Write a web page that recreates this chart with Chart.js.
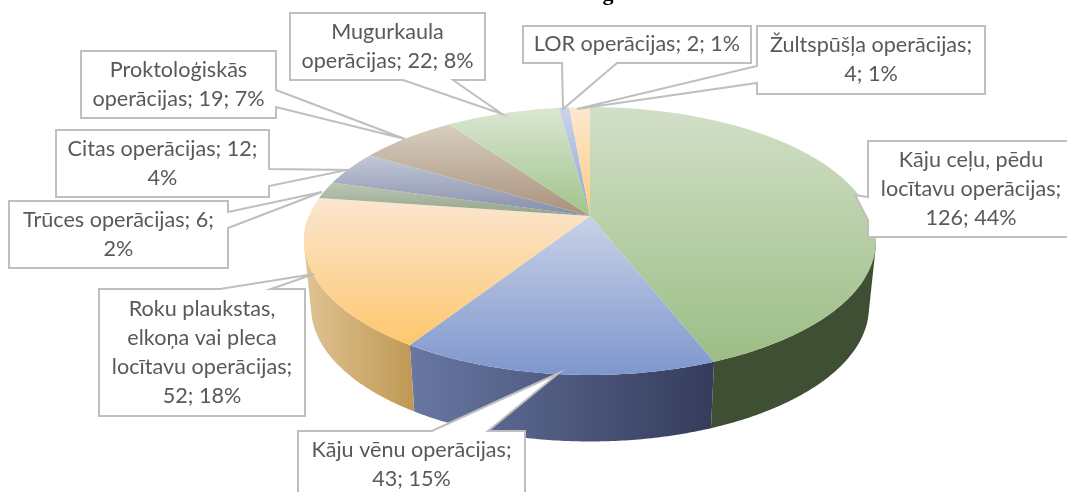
<!DOCTYPE html>
<html><head><meta charset="utf-8">
<style>html,body{margin:0;padding:0;background:#fff}canvas{display:block}</style>
<script src="https://cdn.jsdelivr.net/npm/chart.js@4"></script>
</head><body><canvas id="c" width="1067" height="492"></canvas>
<script>
const categories = ["Kāju ceļu, pēdu locītavu operācijas","Kāju vēnu operācijas","Roku plaukstas, elkoņa vai pleca locītavu operācijas","Trūces operācijas","Citas operācijas","Proktoloģiskās operācijas","Mugurkaula operācijas","LOR operācijas","Žultspūšļa operācijas"];
const values = [126,43,52,6,12,19,22,2,4];
const labelLines = [
 ["Kāju ceļu, pēdu","locītavu operācijas;","126; 44%"],
 ["Kāju vēnu operācijas;","43; 15%"],
 ["Roku plaukstas,","elkoņa vai pleca","locītavu operācijas;","52; 18%"],
 ["Trūces operācijas; 6;","2%"],
 ["Citas operācijas; 12;","4%"],
 ["Proktoloģiskās","operācijas; 19; 7%"],
 ["Mugurkaula","operācijas; 22; 8%"],
 ["LOR operācijas; 2; 1%"],
 ["Žultspūšļa operācijas;","4; 1%"]
];
const baseColors  = ["#9bbe85","#7f97cd","#fec76e","#93a38a","#858ea9","#a8917a","#9fc48a","#8ea6d4","#fdcc7a"];
const lightColors = ["#d2dfc8","#c8d1e7","#fbe6d0","#bcc7b4","#c3c8d8","#d8cec1","#dbe6d3","#cbd4ea","#fde8d1"];
const wallLeft    = ["#3f4f34","#6877a3","#e0c394","#55604e","#4c5268","#5e5144","#4a5c3e","#4c5a80","#c09a55"];
const wallRight   = ["#3f4f34","#353c5b","#c09a55","#55604e","#4c5268","#5e5144","#4a5c3e","#4c5a80","#c09a55"];
// callout outline: box corners plus pointer [side, a, b, tipX, tipY]
const calloutBoxes = [
 {x0:868,y0:141,x1:1074,y1:237,side:"left",a:197,b:220,tx:855,ty:195},
 {x0:298,y0:431,x1:525,y1:498,side:"top",a:432,b:488,tx:559,ty:373},
 {x0:99,y0:289,x1:305,y1:416,side:"top",a:220,b:271,tx:314,ty:274},
 {x0:9,y0:201,x1:228,y1:268,side:"right",a:212,b:228,tx:322,ty:192},
 {x0:56,y0:130,x1:269,y1:197,side:"right",a:169,b:186,tx:347,ty:170},
 {x0:81,y0:51,x1:276,y1:118,side:"right",a:90,b:107,tx:405,ty:139},
 {x0:290,y0:13,x1:485,y1:80,side:"bottom",a:403,b:453,tx:502,ty:114},
 {x0:523,y0:26,x1:751,y1:63,side:"bottom",a:562,b:617,tx:563,ty:109},
 {x0:757,y0:26,x1:985,y1:94,side:"left",a:66,b:83,tx:577,ty:109}
];
const drawOrder = [4,3,5,6,7,8,0,2,1];
const labelFont = "21.6px Lato, 'Noto Sans', sans-serif";
const lineStep = 29;
// perspective of the tilted disc, relative to the chart's outer radius
const persp = {k:0.1866, ay:129.3/216, bx:281/216, depth:66.5, shrink:0.975};

function project(el, angle){
  const X = Math.cos(angle), Y = Math.sin(angle), w = 1 - persp.k*Y, R = el.outerRadius;
  return {x: el.x + persp.bx*R*X/w, y: el.y + persp.ay*R*Y/w};
}
function rim(el){
  const n = Math.max(4, Math.ceil((el.endAngle-el.startAngle)/0.01)), pts=[];
  for(let i=0;i<=n;i++) pts.push(project(el, el.startAngle+(el.endAngle-el.startAngle)*i/n));
  return pts;
}
function area(q){
  let s=0;
  q.forEach((p,i)=>{const n=q[(i+1)%q.length]; s+=p.x*n.y-n.x*p.y;});
  return s;
}
const disc3d = {
  id:"disc3d",
  beforeDatasetsDraw(chart){
    const ctx = chart.ctx, arcs = chart.getDatasetMeta(0).data;
    ctx.save();
    // side wall: all rim strips of a slice go into one path, wound the same way, filled once
    arcs.forEach((el,i)=>{
      const top = rim(el);
      const low = p=>({x: el.x+(p.x-el.x)*persp.shrink, y:p.y+persp.depth});
      const xs = top.map(p=>p.x);
      const g = ctx.createLinearGradient(Math.min(...xs),0,Math.max(...xs),0);
      g.addColorStop(0,wallLeft[i]); g.addColorStop(1,wallRight[i]);
      ctx.beginPath();
      for(let j=0;j<top.length-1;j++){
        const a=top[j], b=top[j+1];
        if(Math.max(a.y,b.y)<el.y) continue;
        let q=[a,b,low(b),low(a)];
        if(area(q)<0) q=q.reverse();
        q.forEach((p,k)=>k?ctx.lineTo(p.x,p.y):ctx.moveTo(p.x,p.y));
        ctx.closePath();
      }
      ctx.fillStyle=g; ctx.fill("nonzero");
    });
    // top face
    arcs.forEach((el,i)=>{
      const pts = rim(el), ys = pts.map(p=>p.y).concat(el.y);
      const g = ctx.createLinearGradient(0,Math.min(...ys),0,Math.max(...ys));
      g.addColorStop(0,lightColors[i]); g.addColorStop(1,el.options.backgroundColor);
      ctx.beginPath(); ctx.moveTo(el.x,el.y);
      pts.forEach(p=>ctx.lineTo(p.x,p.y));
      ctx.closePath(); ctx.fillStyle=g; ctx.fill();
    });
    ctx.restore();
    return false;
  },
  afterDraw(chart){
    const ctx = chart.ctx;
    ctx.save();
    ctx.fillStyle="#000"; ctx.font="bold 22px 'Liberation Serif', serif";
    ctx.textAlign="center"; ctx.textBaseline="alphabetic";
    ctx.fillText("g",608,0);
    drawOrder.forEach(i=>{
      const b = calloutBoxes[i];
      ctx.beginPath(); ctx.moveTo(b.x0,b.y0);
      if(b.side==="top"){ctx.lineTo(b.a,b.y0);ctx.lineTo(b.tx,b.ty);ctx.lineTo(b.b,b.y0);}
      ctx.lineTo(b.x1,b.y0);
      if(b.side==="right"){ctx.lineTo(b.x1,b.a);ctx.lineTo(b.tx,b.ty);ctx.lineTo(b.x1,b.b);}
      ctx.lineTo(b.x1,b.y1);
      if(b.side==="bottom"){ctx.lineTo(b.b,b.y1);ctx.lineTo(b.tx,b.ty);ctx.lineTo(b.a,b.y1);}
      ctx.lineTo(b.x0,b.y1);
      if(b.side==="left"){ctx.lineTo(b.x0,b.b);ctx.lineTo(b.tx,b.ty);ctx.lineTo(b.x0,b.a);}
      ctx.closePath();
      ctx.fillStyle="#fff"; ctx.fill();
      ctx.strokeStyle="#bfbfbf"; ctx.lineWidth=2; ctx.lineJoin="miter"; ctx.stroke();
      ctx.fillStyle="#595959"; ctx.font=labelFont; ctx.textAlign="center"; ctx.textBaseline="middle";
      const lines = labelLines[i], cx=(b.x0+b.x1)/2, cy=(b.y0+b.y1)/2;
      lines.forEach((t,j)=>ctx.fillText(t,cx,cy+(j-(lines.length-1)/2)*lineStep));
    });
    ctx.restore();
  }
};
new Chart(document.getElementById("c"),{
  type:"pie",
  data:{labels:categories,datasets:[{data:values,backgroundColor:baseColors,borderWidth:0}]},
  options:{
    responsive:false,animation:false,
    layout:{padding:{left:113,right:0,top:0,bottom:60}},
    plugins:{legend:{display:false},tooltip:{enabled:false},title:{display:false}}
  },
  plugins:[disc3d]
});
</script></body></html>
